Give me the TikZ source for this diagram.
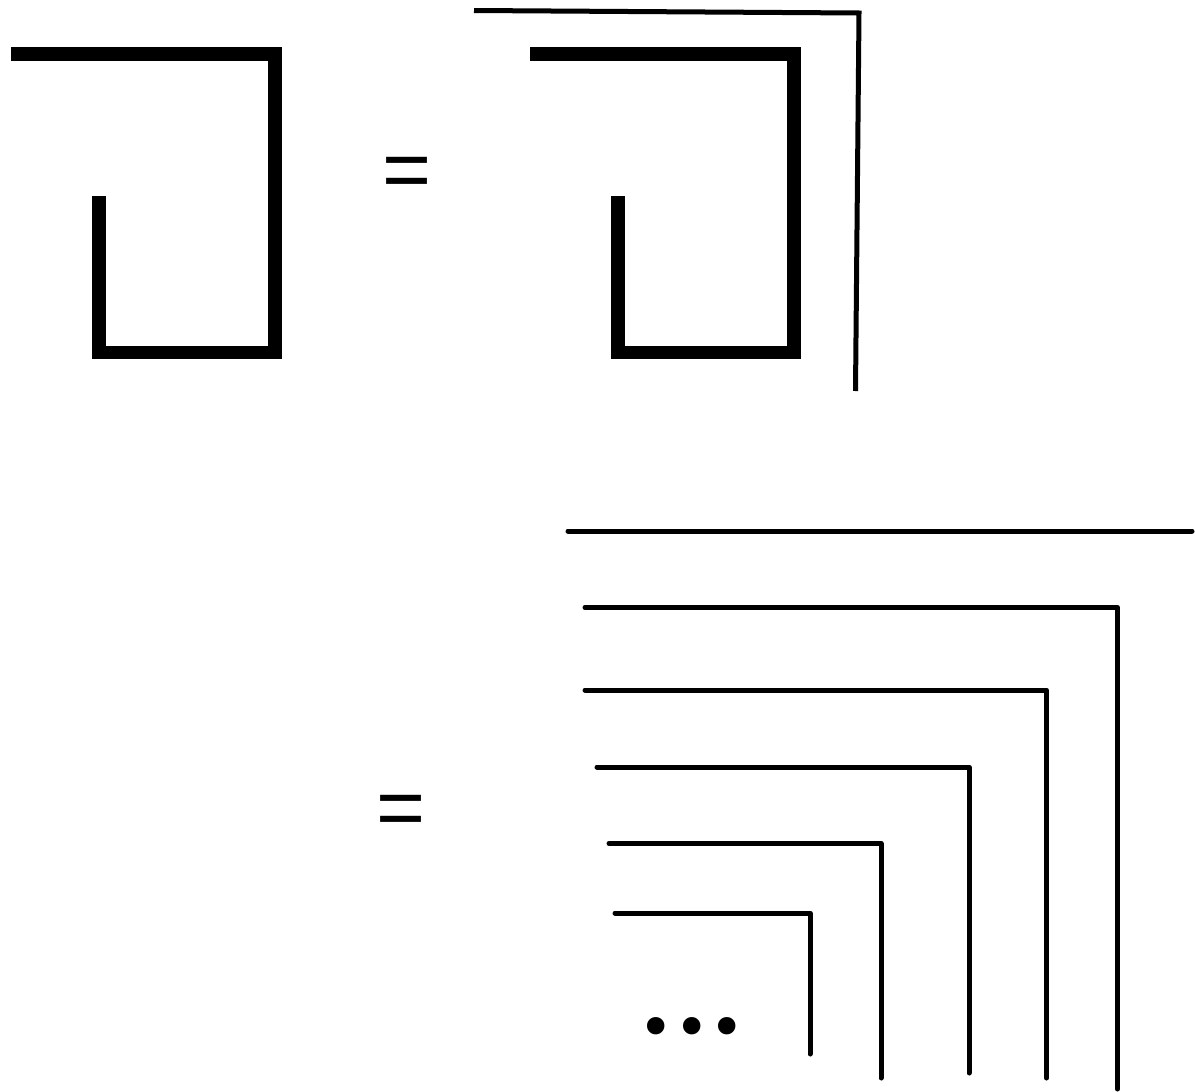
\documentclass[tikz,border=0pt]{standalone}
\usepackage{fontspec}
\setmainfont{Liberation Sans}
\newfontfamily\dotfont{DejaVu Sans}
\begin{document}
\begin{tikzpicture}[x=1pt, y=-1pt,
    stroke/.style={line width=5pt, line cap=round, line join=round},
    eqsign/.style={inner sep=0pt, font=\fontsize{84}{84}\selectfont}]
  \useasboundingbox (0,0) rectangle (1195,1092);
  % 1. thick hooks (left, and the same one shifted right)
  \foreach \dx in {0,519}{
    \fill (\dx+11,47) rectangle (\dx+282,61);
    \fill (\dx+268,47) rectangle (\dx+282,345.5);
    \fill (\dx+92,345.5) rectangle (\dx+282,358.5);
    \fill (\dx+92,196) rectangle (\dx+106,358.5);
  }

  % 2. thin outer bracket
  \draw[line width=5pt, line join=miter] (474,10.5) -- (859,13) -- (855.5,391);

  % 3. equal signs
  \node[eqsign] (eqtop) at (407,177.5) {=};
  \node[eqsign] (eqbot) at (401,815.5) {=};

  % 4. nested corners
  \draw[stroke] (568,531) -- (1192,531);
  \foreach \xa/\y/\xb/\yb in {585/607.5/1117.5/1089, 585/690/1046.5/1078,
      597/767/969/1073, 609/843.5/881/1078, 615/913/810/1054}
    \draw[stroke] (\xa,\y) -- (\xb,\y) -- (\xb,\yb);

  % 5. dots
  \node[inner sep=0pt, font=\dotfont\fontsize{60}{60}\selectfont] (dots) at (692,1033) {•••};
\end{tikzpicture}
\end{document}
